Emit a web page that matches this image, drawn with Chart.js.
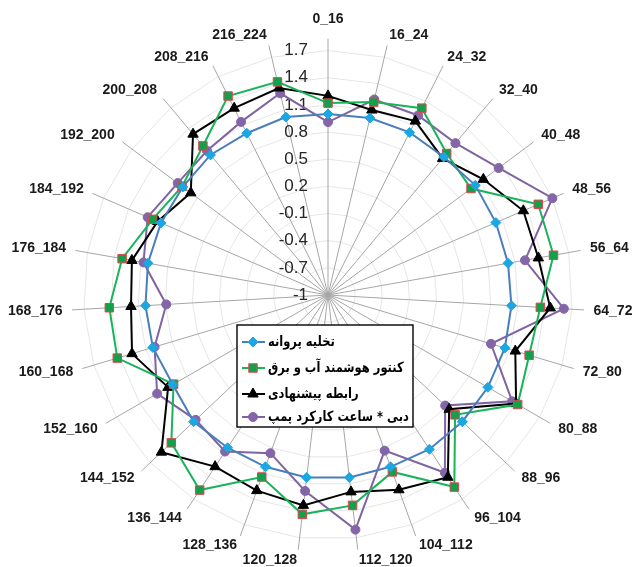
<!DOCTYPE html>
<html>
<head>
<meta charset="utf-8">
<title>Radar chart</title>
<script src="https://cdn.jsdelivr.net/npm/chart.js@4.4.1/dist/chart.umd.min.js"></script>
<style>
  html, body { margin: 0; padding: 0; background: #fff; overflow: hidden; width: 633px; height: 567px; }
  #chart { position: absolute; left: 1px; top: -30px; }
</style>
</head>
<body>
<canvas id="chart" width="640" height="640"></canvas>
<script>
// categories (clockwise from top)
const bins = ["0_16", "16_24", "24_32", "32_40", "40_48", "48_56", "56_64", "64_72", "72_80",
  "80_88", "88_96", "96_104", "104_112", "112_120", "120_128", "128_136", "136_144",
  "144_152", "152_160", "160_168", "168_176", "176_184", "184_192", "192_200",
  "200_208", "208_216", "216_224"];

const seriesNames = ["تخلیه پروانه", "کنتور هوشمند آب و برق", "رابطه پیشنهادی", "دبی * ساعت کارکرد پمپ"];

const propeller = [1.00, 1.01, 1.01, 0.99, 1.03, 1.02, 1.02, 1.03, 1.04, 1.04, 1.04, 1.04, 1.02, 1.03,
  1.03, 1.02, 1.02, 1.04, 0.98, 1.02, 1.02, 1.02, 1.01, 1.00, 1.02, 1.00, 1.02];
const smartMeter = [1.12, 1.19, 1.31, 1.04, 0.97, 1.53, 1.53, 1.35, 1.32, 1.42, 0.93, 1.54, 1.08, 1.34,
  1.44, 1.14, 1.58, 1.38, 0.97, 1.43, 1.42, 1.31, 1.11, 1.01, 1.15, 1.46, 1.42];
const proposed = [1.20, 1.10, 1.15, 0.97, 1.14, 1.35, 1.36, 1.46, 1.16, 1.40, 0.84, 1.41, 1.29, 1.19,
  1.34, 1.30, 1.27, 1.53, 1.04, 1.26, 1.18, 1.20, 1.05, 0.89, 1.32, 1.31, 1.35];
const flowHours = [0.91, 1.22, 1.22, 1.19, 1.35, 1.70, 1.21, 1.61, 0.88, 1.35, 0.78, 1.35, 0.83, 1.61,
  1.18, 0.86, 1.07, 1.01, 1.18, 1.00, 0.79, 1.07, 1.17, 1.07, 1.08, 1.14, 1.29];

const rTicks = [-1, -0.7, -0.4, -0.1, 0.2, 0.5, 0.8, 1.1, 1.4, 1.7];

// value labels sit left of the vertical axis, like excel
const tickText = {
  id: "tickText",
  beforeDatasetsDraw(chart) {
    const s = chart.scales.r;
    const ctx = chart.ctx;
    ctx.save();
    ctx.font = '17px "Liberation Sans", Arial, sans-serif';
    ctx.fillStyle = "#262626";
    ctx.textAlign = "right";
    ctx.textBaseline = "middle";
    rTicks.forEach(v => {
      const y = s.yCenter - s.getDistanceFromCenterForValue(v);
      ctx.fillText(String(v), s.xCenter - 20, y);
    });
    ctx.restore();
  }
};

// boxed legend over the lower middle of the chart
const boxLegend = {
  id: "boxLegend",
  afterDraw(chart) {
    const s = chart.scales.r;
    const ctx = chart.ctx;
    const x0 = s.xCenter - 91, y0 = s.yCenter + 30;
    const rows = [17, 43, 69, 92];
    ctx.save();
    ctx.fillStyle = "#fff";
    ctx.fillRect(x0, y0, 176, 102);
    ctx.strokeStyle = "#000";
    ctx.lineWidth = 1.4;
    ctx.strokeRect(x0, y0, 176, 102);
    chart.data.datasets.forEach((ds, i) => {
      const y = y0 + rows[i];
      ctx.strokeStyle = ds.borderColor;
      ctx.lineWidth = 2;
      ctx.beginPath();
      ctx.moveTo(x0 + 5, y);
      ctx.lineTo(x0 + 28, y);
      ctx.stroke();
      ctx.fillStyle = ds.pointBackgroundColor;
      ctx.strokeStyle = ds.pointBorderColor;
      ctx.lineWidth = ds.pointBorderWidth;
      Chart.helpers.drawPoint(ctx, { pointStyle: ds.pointStyle, radius: ds.pointRadius, borderWidth: ds.pointBorderWidth, rotation: 0 }, x0 + 16, y);
      // persian text, squeezed a bit to look like the narrow original face
      ctx.save();
      ctx.translate(x0 + 31, y);
      ctx.scale(0.82, 1);
      ctx.fillStyle = "#000";
      ctx.font = 'bold 14px "DejaVu Sans", sans-serif';
      ctx.direction = "rtl";
      ctx.textAlign = "left";
      ctx.textBaseline = "middle";
      ctx.fillText(ds.label, 0, 0);
      ctx.restore();
    });
    ctx.restore();
  }
};

new Chart(document.getElementById("chart"), {
  type: "radar",
  data: {
    labels: bins,
    datasets: [
      {
        label: seriesNames[0],
        data: propeller,
        borderColor: "#4a7ebb",
        borderWidth: 2,
        pointStyle: "rectRot",
        pointRadius: 5,
        pointBackgroundColor: "#1aa7e2",
        pointBorderColor: "#1aa7e2",
        pointBorderWidth: 1,
        fill: false
      },
      {
        label: seriesNames[1],
        data: smartMeter,
        borderColor: "#19b35a",
        borderWidth: 2,
        pointStyle: "rect",
        pointRadius: 6,
        pointBackgroundColor: "#12a04c",
        pointBorderColor: "#e0474c",
        pointBorderWidth: 1,
        fill: false
      },
      {
        label: seriesNames[2],
        data: proposed,
        borderColor: "#000000",
        borderWidth: 2,
        pointStyle: "triangle",
        pointRadius: 6,
        pointBackgroundColor: "#000000",
        pointBorderColor: "#000000",
        pointBorderWidth: 1,
        fill: false
      },
      {
        label: seriesNames[3],
        data: flowHours,
        borderColor: "#8064a2",
        borderWidth: 2,
        pointStyle: "circle",
        pointRadius: 4.5,
        pointBackgroundColor: "#8466a8",
        pointBorderColor: "#8466a8",
        pointBorderWidth: 1,
        fill: false
      }
    ]
  },
  options: {
    responsive: false,
    devicePixelRatio: 1,
    animation: false,
    plugins: {
      legend: { display: false },
      tooltip: { enabled: false }
    },
    scales: {
      r: {
        min: -1,
        max: 1.7 + 0.4 / 3,
        afterBuildTicks(scale) {
          scale.ticks = rTicks.map(v => ({ value: v }));
        },
        ticks: { display: false },
        grid: { color: "#e6e6e6", lineWidth: 1 },
        angleLines: { color: "#a6a6a6", lineWidth: 1 },
        pointLabels: {
          // tiny line height keeps each label centred on its anchor, as excel does
          padding: ctx => (ctx.index === 0 ? 19 : 9.5),
          color: "#1a1a1a",
          font: { family: '"Liberation Sans", Arial, sans-serif', size: 14, weight: "bold", lineHeight: 0.1 }
        }
      }
    }
  },
  plugins: [tickText, boxLegend]
});
</script>
</body>
</html>
